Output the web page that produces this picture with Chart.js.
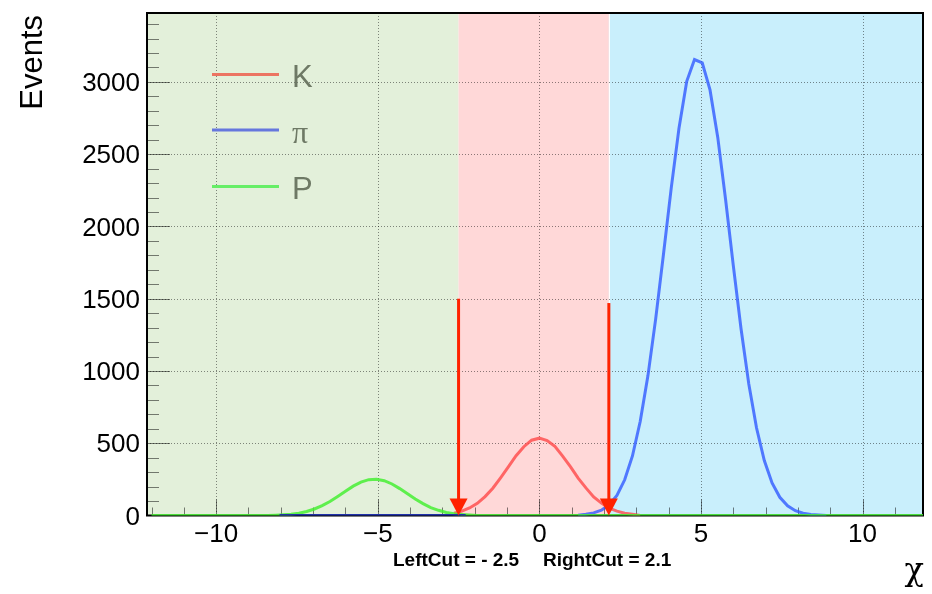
<!DOCTYPE html>
<html>
<head>
<meta charset="utf-8">
<script src="https://cdn.jsdelivr.net/npm/chart.js@4.4.0/dist/chart.umd.min.js"></script>
<style>
  html, body { margin: 0; padding: 0; background: #fff; overflow: hidden; }
  #wrap { width: 932px; height: 594px; }
</style>
</head>
<body>
<div id="wrap"><canvas id="chart" width="932" height="594"></canvas></div>
<script>
// axis ranges and labels
const xMin = -12.14, xMax = 11.87;
const yMin = 0, yMax = 3477;
const xTickValues = [-10, -5, 0, 5, 10];
const xTickLabels = ['\u221210', '\u22125', '0', '5', '10'];
const yTickValues = [0, 500, 1000, 1500, 2000, 2500, 3000];
const yTickLabels = ['0', '500', '1000', '1500', '2000', '2500', '3000'];

// K histogram
const kX = [-2.64, -2.40, -2.16, -1.92, -1.68, -1.44, -1.20, -0.96, -0.72, -0.48, -0.24, 0,
            0.24, 0.48, 0.72, 0.96, 1.20, 1.44, 1.68, 1.92, 2.16, 2.40, 2.64, 2.88, 3.12];
const kY = [16, 30, 52, 84, 131, 189, 261, 336, 414, 476, 521, 535,
            518, 478, 411, 338, 259, 191, 129, 86, 51, 30, 16, 8, 0];

// pi histogram
const piX = [1.20, 1.44, 1.68, 1.92, 2.16, 2.40, 2.64, 2.88, 3.12, 3.36, 3.60, 3.84, 4.08, 4.32, 4.56, 4.80,
             5.04, 5.28, 5.52, 5.76, 6.00, 6.24, 6.48, 6.72, 6.96, 7.20, 7.44, 7.68, 7.92, 8.16, 8.40, 8.64, 8.88];
const piY = [2, 8, 18, 37, 74, 139, 247, 412, 650, 968, 1362, 1808, 2265, 2680, 3004, 3155,
             3132, 2945, 2616, 2190, 1731, 1292, 910, 605, 380, 225, 126, 67, 33, 16, 7, 3, 0];

// P histogram
const pX = [-12, -8.40, -8.16, -7.92, -7.68, -7.44, -7.20, -6.96, -6.72, -6.48, -6.24, -6.00, -5.76, -5.52, -5.28,
            -5.04, -4.80, -4.56, -4.32, -4.08, -3.84, -3.60, -3.36, -3.12, -2.88, -2.64, -2.40, -2.16, -1.92, 12];
const pY = [0, 0, 2, 5, 9, 16, 28, 45, 68, 97, 132, 168, 203, 231, 248,
            251, 241, 218, 186, 150, 114, 82, 55, 36, 21, 12, 7, 3, 0, 0];

// dark baseline piece under the P peak
const baseX = [-8.04, -2.28];
const baseY = [0, 0];

// cuts and shaded regions
const cutValues = [-2.5, 2.15];
const arrowTops = [1500, 1470];
const regionEdges = [xMin, -2.5, 2.15, xMax];
const regionColors = ['#e3f0da', '#ffd8d8', '#c9effc'];

const series = [
  { label: 'K', xs: kX, ys: kY, color: 'rgba(255,73,73,0.8)', legendColor: '#ec7462' },
  { label: '\u03c0', xs: piX, ys: piY, color: 'rgba(49,90,255,0.8)', legendColor: '#6677dd' },
  { label: 'P', xs: pX, ys: pY, color: 'rgba(71,238,52,0.85)', legendColor: '#66ee66' }
];

function pts(xs, ys) {
  return xs.map((x, i) => ({ x: x, y: ys[i] }));
}

const rootStyle = {
  id: 'rootStyle',
  beforeDatasetsDraw(chart) {
    const { ctx, chartArea: a, scales: { x, y } } = chart;
    ctx.save();
    // coloured bands
    for (let i = 0; i < regionEdges.length - 1; i++) {
      const x0 = x.getPixelForValue(regionEdges[i]);
      const x1 = x.getPixelForValue(regionEdges[i + 1]);
      ctx.fillStyle = regionColors[i];
      ctx.fillRect(x0, a.top, x1 - x0, a.bottom - a.top);
    }
    const xr = Math.round(x.getPixelForValue(cutValues[1])) + 0.5;
    ctx.strokeStyle = '#ffffff';
    ctx.lineWidth = 1;
    ctx.beginPath(); ctx.moveTo(xr, a.top); ctx.lineTo(xr, a.bottom); ctx.stroke();

    // dotted grid
    ctx.strokeStyle = 'rgba(0,0,0,0.45)';
    ctx.setLineDash([1, 2]);
    xTickValues.forEach(v => {
      const px = Math.round(x.getPixelForValue(v)) + 0.5;
      ctx.beginPath(); ctx.moveTo(px, a.top); ctx.lineTo(px, a.bottom); ctx.stroke();
    });
    yTickValues.forEach(v => {
      if (v === 0) return;
      const py = Math.round(y.getPixelForValue(v)) + 0.5;
      ctx.beginPath(); ctx.moveTo(a.left, py); ctx.lineTo(a.right, py); ctx.stroke();
    });
    ctx.setLineDash([]);

    // inward ticks
    ctx.strokeStyle = 'rgba(0,0,0,0.5)';
    for (let v = 100; v < yMax; v += 100) {
      const py = Math.round(y.getPixelForValue(v)) + 0.5;
      const len = v % 500 === 0 ? 23 : 12;
      ctx.beginPath(); ctx.moveTo(a.left, py); ctx.lineTo(a.left + len, py); ctx.stroke();
    }
    for (let v = -12; v <= 11; v++) {
      const px = Math.round(x.getPixelForValue(v)) + 0.5;
      const len = v % 5 === 0 ? 16 : 8;
      ctx.beginPath(); ctx.moveTo(px, a.bottom); ctx.lineTo(px, a.bottom - len); ctx.stroke();
    }

    // frame
    ctx.strokeStyle = '#000';
    ctx.lineWidth = 2;
    ctx.strokeRect(a.left, a.top, a.right - a.left, a.bottom - a.top);
    ctx.restore();
  },
  afterDatasetsDraw(chart) {
    const { ctx, scales: { x, y } } = chart;
    ctx.save();
    // cut arrows
    ctx.strokeStyle = '#ff2200';
    ctx.fillStyle = '#ff2200';
    ctx.lineWidth = 3;
    cutValues.forEach((c, i) => {
      const px = x.getPixelForValue(c);
      const top = y.getPixelForValue(arrowTops[i]);
      const tip = y.getPixelForValue(0);
      ctx.beginPath(); ctx.moveTo(px, top); ctx.lineTo(px, tip - 16); ctx.stroke();
      ctx.beginPath();
      ctx.moveTo(px - 9, tip - 17); ctx.lineTo(px + 9, tip - 17); ctx.lineTo(px, tip);
      ctx.closePath(); ctx.fill();
    });

    // legend
    const rows = [74.5, 130, 186.5];
    series.forEach((s, i) => {
      ctx.strokeStyle = s.legendColor;
      ctx.lineWidth = 3;
      ctx.beginPath(); ctx.moveTo(212, rows[i]); ctx.lineTo(279, rows[i]); ctx.stroke();
      ctx.fillStyle = '#6e7965';
      ctx.font = s.label === '\u03c0' ? '32px "Liberation Serif"' : '31px "Liberation Sans"';
      ctx.textAlign = 'left';
      ctx.textBaseline = 'alphabetic';
      ctx.fillText(s.label, 292, rows[i] + 12.5);
    });
    ctx.restore();
  },
  afterDraw(chart) {
    const { ctx } = chart;
    ctx.save();
    ctx.fillStyle = '#000';
    // y title
    ctx.translate(42, 15);
    ctx.rotate(-Math.PI / 2);
    ctx.font = '31px "Liberation Sans"';
    ctx.textAlign = 'right';
    ctx.textBaseline = 'alphabetic';
    ctx.fillText('Events', 0, 0);
    ctx.setTransform(1, 0, 0, 1, 0, 0);
    // x title
    ctx.font = '32px "DejaVu Serif"';
    ctx.textAlign = 'right';
    ctx.fillText('\u03c7', 924, 580);
    // cut label
    ctx.font = 'bold 19px "Liberation Sans"';
    ctx.textAlign = 'left';
    ctx.fillText('LeftCut = - 2.5', 393, 566);
    ctx.fillText('RightCut = 2.1', 543, 566);
    ctx.restore();
  }
};

const tickFont = { family: 'Liberation Sans', size: 26 };

new Chart(document.getElementById('chart'), {
  type: 'line',
  data: {
    datasets: [
      { label: 'base', data: pts(baseX, baseY), borderColor: '#2233aa', borderWidth: 3 },
      { label: series[2].label, data: pts(pX, pY), borderColor: series[2].color, borderWidth: 3 },
      { label: series[0].label, data: pts(kX, kY), borderColor: series[0].color, borderWidth: 3 },
      { label: series[1].label, data: pts(piX, piY), borderColor: series[1].color, borderWidth: 3 }
    ]
  },
  options: {
    responsive: false,
    animation: false,
    devicePixelRatio: 1,
    layout: { padding: { top: 13, right: 9, left: 0, bottom: 0 } },
    elements: { point: { radius: 0 }, line: { tension: 0, fill: false } },
    plugins: { legend: { display: false }, tooltip: { enabled: false } },
    scales: {
      x: {
        type: 'linear', min: xMin, max: xMax,
        grid: { display: false, drawTicks: false },
        border: { display: false },
        afterBuildTicks: s => { s.ticks = xTickValues.map(v => ({ value: v })); },
        afterFit: s => { s.height = 78.5; s.paddingLeft = 0; s.paddingRight = 0; },
        ticks: {
          padding: 4, maxRotation: 0, autoSkip: false, color: '#000', font: tickFont,
          callback: (v, i) => xTickLabels[i]
        }
      },
      y: {
        type: 'linear', min: yMin, max: yMax,
        grid: { display: false, drawTicks: false },
        border: { display: false },
        afterBuildTicks: s => { s.ticks = yTickValues.map(v => ({ value: v })); },
        afterFit: s => { s.width = 147; s.paddingTop = 0; s.paddingBottom = 0; },
        ticks: {
          padding: 7, labelOffset: 2, autoSkip: false, color: '#000', font: tickFont,
          callback: (v, i) => yTickLabels[i]
        }
      }
    }
  },
  plugins: [rootStyle]
});
</script>
</body>
</html>
